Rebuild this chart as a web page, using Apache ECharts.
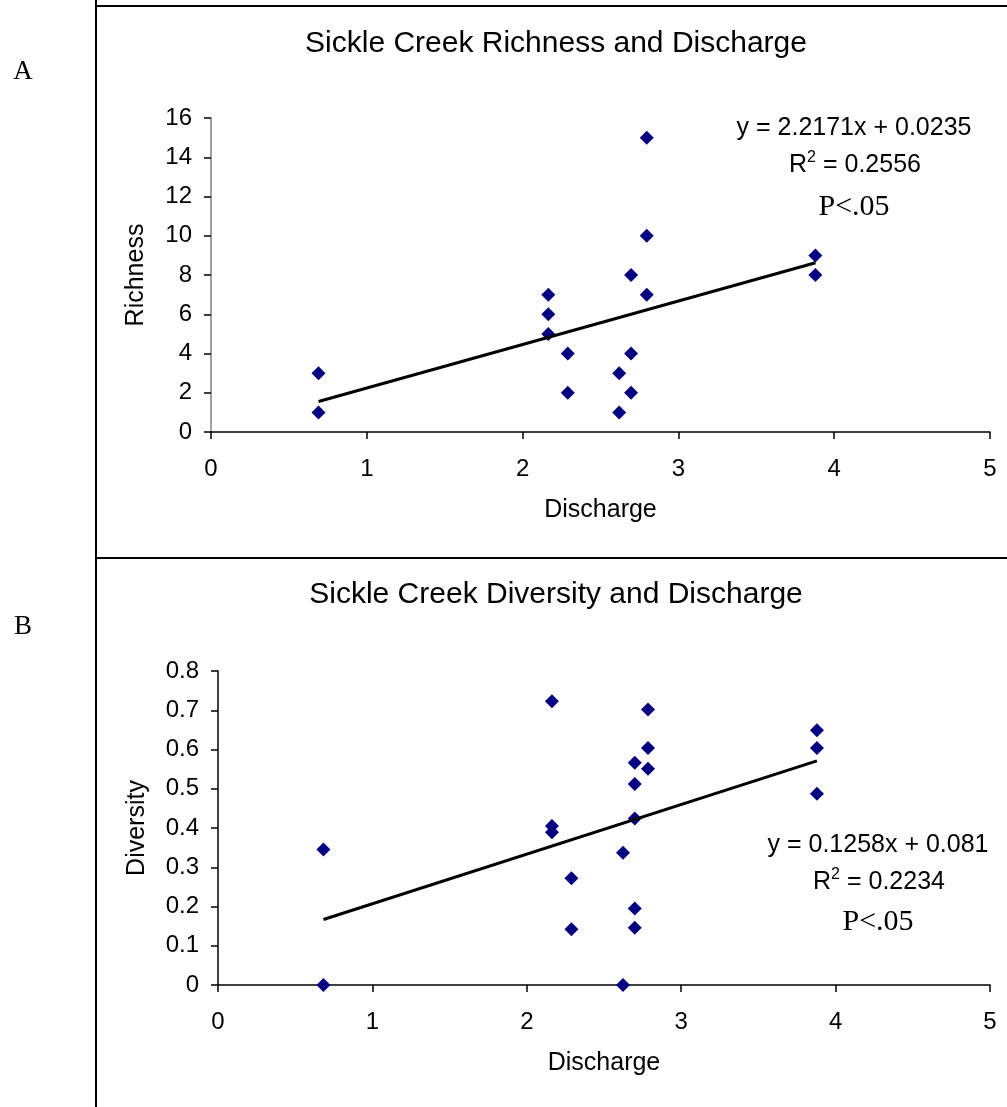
<!DOCTYPE html>
<html>
<head>
<meta charset="utf-8">
<script src="https://cdn.jsdelivr.net/npm/echarts@6/dist/echarts.min.js"></script>
<style>
  html, body { margin: 0; padding: 0; background: #fff; }
  #chart { width: 1007px; height: 1107px; }
</style>
</head>
<body>
<div id="chart"></div>
<script>
// panel A: richness vs discharge
const dischargeA = [0.69, 0.69, 2.165, 2.165, 2.165, 2.29, 2.29, 2.62, 2.62, 2.696, 2.696, 2.696, 2.797, 2.797, 2.797, 3.879, 3.879];
const richness = [3, 1, 7, 6, 5, 4, 2, 3, 1, 8, 4, 2, 15, 10, 7, 9, 8];
const trendAx = [0.69, 3.88];
const trendAy = [1.553, 8.626];

// panel B: diversity vs discharge
const dischargeB = [0.683, 0.683, 2.163, 2.163, 2.163, 2.289, 2.289, 2.623, 2.623, 2.699, 2.699, 2.699, 2.699, 2.699, 2.785, 2.785, 2.785, 3.879, 3.879, 3.879];
const diversity = [0.345, 0, 0.723, 0.405, 0.389, 0.272, 0.142, 0.337, 0, 0.566, 0.512, 0.424, 0.195, 0.146, 0.702, 0.604, 0.551, 0.649, 0.604, 0.487];
const trendBx = [0.683, 3.879];
const trendBy = [0.167, 0.571];

const xTicks = [0, 1, 2, 3, 4, 5];

const zip = (xs, ys) => xs.map((x, i) => [x, ys[i]]);

const myChart = echarts.init(document.getElementById("chart"));

const arial = "Arial, 'Liberation Sans', sans-serif";
const times = "'Times New Roman', 'Liberation Serif', serif";

function xAxisFor(grid) {
  return {
    gridIndex: grid,
    type: "value",
    min: xTicks[0],
    max: xTicks[xTicks.length - 1],
    interval: 1,
    name: "Discharge",
    nameLocation: "middle",
    nameGap: 66,
    nameTextStyle: { fontSize: 25, color: "#000", fontFamily: arial },
    axisLine: { show: true, onZero: false, lineStyle: { color: "#000", width: 1.5 } },
    axisTick: { show: true, length: 7, lineStyle: { color: "#000", width: 1.5 } },
    axisLabel: { fontSize: 24, color: "#000", fontFamily: arial, margin: 25 },
    splitLine: { show: false },
  };
}

function yAxisFor(grid, opts) {
  return {
    gridIndex: grid,
    type: "value",
    min: 0,
    max: opts.max,
    interval: opts.interval,
    name: opts.name,
    nameLocation: "middle",
    nameGap: opts.nameGap,
    nameTextStyle: { fontSize: 25, color: "#000", fontFamily: arial },
    axisLine: { show: true, onZero: false, lineStyle: { color: opts.lineColor, width: 1.5 } },
    axisTick: { show: true, length: 7, lineStyle: { color: "#000", width: 1.5 } },
    axisLabel: { fontSize: 24, color: "#000", fontFamily: arial, margin: 19 },
    splitLine: { show: false },
  };
}

function label(text, x, y, font) {
  return {
    type: "text",
    x: x,
    y: y,
    style: {
      text: text,
      fill: "#000",
      font: font,
      align: "center",
      verticalAlign: "middle",
      rich: {
        sup: { fontSize: 16, fontFamily: arial, verticalAlign: "bottom", lineHeight: 16, padding: [0, 0, 14, 0] },
        base: { fontSize: 25, fontFamily: arial, lineHeight: 30 },
      },
    },
  };
}

function frameLine(x1, y1, x2, y2) {
  return {
    type: "line",
    shape: { x1: x1, y1: y1, x2: x2, y2: y2 },
    style: { stroke: "#000", lineWidth: 2 },
  };
}

const option = {
  backgroundColor: "#fff",
  animation: false,
  grid: [
    { left: 211, top: 118, width: 779, height: 314 },
    { left: 218, top: 671, width: 772, height: 314 },
  ],
  xAxis: [xAxisFor(0), xAxisFor(1)],
  yAxis: [
    yAxisFor(0, { max: 16, interval: 2, name: "Richness", nameGap: 62, lineColor: "#808080" }),
    yAxisFor(1, { max: 0.8, interval: 0.1, name: "Diversity", nameGap: 68, lineColor: "#000" }),
  ],
  graphic: [
    frameLine(96, 0, 96, 1107),
    frameLine(96, 6, 1007, 6),
    frameLine(96, 558, 1007, 558),
    label("A", 23, 72, "27px " + times),
    label("B", 23, 627, "27px " + times),
    label("Sickle Creek Richness and Discharge", 556, 44, "30px " + arial),
    label("Sickle Creek Diversity and Discharge", 556, 595, "30px " + arial),
    label("y = 2.2171x + 0.0235", 854, 128, "25px " + arial),
    label("{base|R}{sup|2}{base| = 0.2556}", 855, 165, "25px " + arial),
    label("P<.05", 854, 207, "30px " + times),
    label("y = 0.1258x + 0.081", 878, 845, "25px " + arial),
    label("{base|R}{sup|2}{base| = 0.2234}", 879, 882, "25px " + arial),
    label("P<.05", 878, 922, "30px " + times),
  ],
  series: [
    {
      type: "scatter",
      xAxisIndex: 0,
      yAxisIndex: 0,
      symbol: "diamond",
      symbolSize: 14,
      clip: false,
      itemStyle: { color: "#000080", opacity: 1 },
      data: zip(dischargeA, richness),
    },
    {
      type: "line",
      xAxisIndex: 0,
      yAxisIndex: 0,
      symbol: "none",
      lineStyle: { color: "#000", width: 3 },
      data: zip(trendAx, trendAy),
    },
    {
      type: "scatter",
      xAxisIndex: 1,
      yAxisIndex: 1,
      symbol: "diamond",
      symbolSize: 14,
      clip: false,
      itemStyle: { color: "#000080", opacity: 1 },
      data: zip(dischargeB, diversity),
    },
    {
      type: "line",
      xAxisIndex: 1,
      yAxisIndex: 1,
      symbol: "none",
      lineStyle: { color: "#000", width: 3 },
      data: zip(trendBx, trendBy),
    },
  ],
};
myChart.setOption(option);
</script>
</body>
</html>
